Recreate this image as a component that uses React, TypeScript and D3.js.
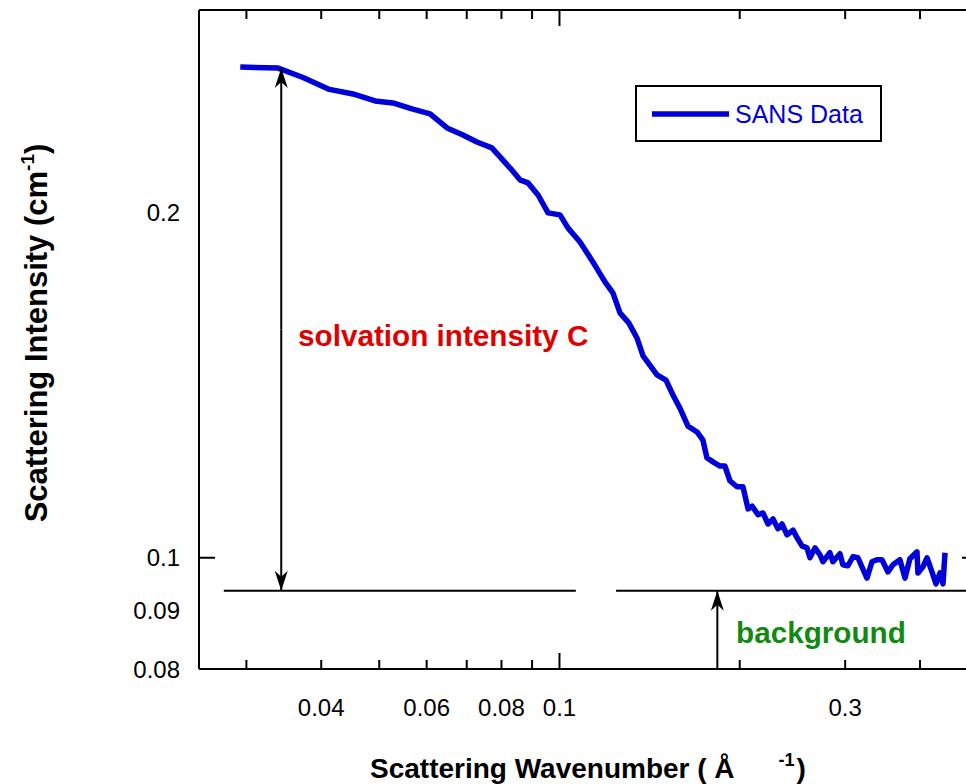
import React from "react";
import * as d3 from "d3";

// SANS data: scattering wavenumber (1/Å) and intensity (1/cm)
const qValues = [
  0.0293, 0.0339, 0.0373, 0.0411, 0.0452, 0.0492, 0.0527, 0.0567, 0.0608, 0.0649,
  0.069, 0.0728, 0.0771, 0.0827, 0.0859, 0.0886, 0.0921, 0.0957, 0.1002, 0.1033,
  0.1082, 0.1137, 0.1191, 0.1228, 0.1262, 0.1306, 0.1347, 0.1379, 0.1455, 0.1506,
  0.1547, 0.1589, 0.1639, 0.1697, 0.1736, 0.1763, 0.1804, 0.1854, 0.1889, 0.1926,
  0.1979, 0.2025, 0.2065, 0.2097, 0.2146, 0.2187, 0.223, 0.2273, 0.2317, 0.2353,
  0.2399, 0.2455, 0.2493, 0.2541, 0.259, 0.262, 0.2671, 0.2723, 0.2754, 0.2829,
  0.2862, 0.294, 0.2974, 0.3032, 0.3091, 0.3151, 0.32, 0.3262, 0.3326, 0.339,
  0.3456, 0.3537, 0.3605, 0.3703, 0.3776, 0.3848, 0.3954, 0.3969, 0.4046, 0.4109,
  0.4189, 0.4254, 0.432, 0.437, 0.4404,
];
const intensityValues = [
  0.2676, 0.267, 0.262, 0.256, 0.2535, 0.25, 0.249, 0.246, 0.2436, 0.2368,
  0.2335, 0.2302, 0.2275, 0.2185, 0.2134, 0.2121, 0.207, 0.1997, 0.1989, 0.1938,
  0.1884, 0.181, 0.1739, 0.1701, 0.1634, 0.1601, 0.1554, 0.1499, 0.1443, 0.1428,
  0.1386, 0.135, 0.1302, 0.1287, 0.1266, 0.1222, 0.1212, 0.1202, 0.1202, 0.1167,
  0.1153, 0.1153, 0.1103, 0.1109, 0.109, 0.1094, 0.107, 0.1081, 0.106, 0.107,
  0.1047, 0.1057, 0.1041, 0.1024, 0.102, 0.1, 0.102, 0.1006, 0.0992, 0.101,
  0.0992, 0.1008, 0.0986, 0.0984, 0.1002, 0.1, 0.0982, 0.096, 0.0992, 0.0996,
  0.0996, 0.0972, 0.0986, 0.0996, 0.096, 0.0998, 0.1012, 0.097, 0.0982, 0.1,
  0.0972, 0.0949, 0.097, 0.0949, 0.101,
];

const xTickLabels = [0.04, 0.06, 0.08, 0.1, 0.3];
const xMinorTicks = [0.03, 0.04, 0.05, 0.06, 0.07, 0.08, 0.09, 0.2, 0.3, 0.4];
const xMajorTicks = [0.1];
const yTickLabels = [0.08, 0.09, 0.1, 0.2];
const yMajorTicks = [0.1];

// annotation values (data units)
const backgroundLevel = 0.0936;
const backgroundSegments = [
  [0.0275, 0.1065],
  [0.1243, 0.5],
];
const solvationArrow = { q: 0.0343, from: 0.267, to: backgroundLevel };
const backgroundArrow = { q: 0.1835, from: 0.08, to: backgroundLevel };

const W = 966;
const H = 784;
const left = 199;
const right = 978;
const top = 10;
const bottom = 669;

export default function App() {
  const x = d3.scaleLog().domain([0.025, 0.5]).range([left, right]);
  const y = d3.scaleLog().domain([0.08, 0.3]).range([bottom, top]);
  const pts = qValues.map((q, i) => [q, intensityValues[i]] as [number, number]);
  const line = d3
    .line<[number, number]>()
    .x((d) => x(d[0]))
    .y((d) => y(d[1]));

  const font = "'Liberation Sans', Arial, sans-serif";
  const blue = "#0000d8";

  return (
    <svg
      width={W}
      height={H}
      style={{ position: "absolute", left: 0, top: 0, background: "#fff" }}
      fontFamily={font}
    >
      <defs>
        <marker
          id="ah"
          viewBox="-22 -8 24 16"
          refX="0"
          refY="0"
          markerWidth="24"
          markerHeight="16"
          markerUnits="userSpaceOnUse"
          orient="auto"
        >
          <path d="M0,0 L-20,-6.5 L-14,0 L-20,6.5 Z" fill="#000" />
        </marker>
      </defs>

      {/* frame */}
      <g stroke="#000" strokeWidth={2} fill="none">
        <line x1={left} y1={top} x2={left} y2={bottom} />
        <line x1={left} y1={top} x2={right} y2={top} />
        <line x1={left} y1={bottom} x2={right} y2={bottom} />
        <line x1={right} y1={top} x2={right} y2={bottom} />
      </g>

      {/* ticks */}
      <g stroke="#000" strokeWidth={2}>
        {xMinorTicks.map((t) => (
          <g key={"xm" + t}>
            <line x1={x(t)} x2={x(t)} y1={bottom} y2={bottom - 9} />
            <line x1={x(t)} x2={x(t)} y1={top} y2={top + 9} />
          </g>
        ))}
        {xMajorTicks.map((t) => (
          <g key={"xM" + t}>
            <line x1={x(t)} x2={x(t)} y1={bottom} y2={bottom - 16} />
            <line x1={x(t)} x2={x(t)} y1={top} y2={top + 16} />
          </g>
        ))}
        {yMajorTicks.map((t) => (
          <g key={"yM" + t}>
            <line x1={left} x2={left + 16} y1={y(t)} y2={y(t)} />
            <line x1={right} x2={right - 16} y1={y(t)} y2={y(t)} />
          </g>
        ))}
      </g>

      {/* tick labels */}
      <g fontSize={24} fill="#000">
        {xTickLabels.map((t) => (
          <text key={"xl" + t} x={x(t)} y={716} textAnchor="middle">
            {String(t)}
          </text>
        ))}
        {yTickLabels.map((t) => (
          <text key={"yl" + t} x={180} y={y(t) + 8.5} textAnchor="end">
            {String(t)}
          </text>
        ))}
      </g>

      {/* background line */}
      <g stroke="#000" strokeWidth={2}>
        {backgroundSegments.map((s, i) => (
          <line
            key={"bg" + i}
            x1={x(s[0])}
            x2={x(s[1])}
            y1={y(backgroundLevel)}
            y2={y(backgroundLevel)}
          />
        ))}
      </g>

      {/* data */}
      <path
        d={line(pts) || ""}
        fill="none"
        stroke={blue}
        strokeWidth={5.5}
        strokeLinejoin="round"
      />

      {/* arrows */}
      <g stroke="#000" strokeWidth={2}>
        <line
          x1={x(solvationArrow.q)}
          x2={x(solvationArrow.q)}
          y1={(y(solvationArrow.from) + y(solvationArrow.to)) / 2}
          y2={y(solvationArrow.from)}
          markerEnd="url(#ah)"
        />
        <line
          x1={x(solvationArrow.q)}
          x2={x(solvationArrow.q)}
          y1={(y(solvationArrow.from) + y(solvationArrow.to)) / 2}
          y2={y(solvationArrow.to)}
          markerEnd="url(#ah)"
        />
        <line
          x1={x(backgroundArrow.q)}
          x2={x(backgroundArrow.q)}
          y1={y(backgroundArrow.from)}
          y2={y(backgroundArrow.to)}
          markerEnd="url(#ah)"
        />
      </g>

      {/* annotations */}
      <text x={298} y={346} fontSize={29.7} fontWeight="bold" fill="#e00000">
        solvation intensity C
      </text>
      <text x={736} y={643} fontSize={29.7} fontWeight="bold" fill="#128a12">
        background
      </text>

      {/* legend */}
      <rect x={636} y={86} width={245} height={55} fill="#fff" stroke="#000" strokeWidth={2} />
      <line x1={652} x2={729} y1={114} y2={114} stroke={blue} strokeWidth={5.5} />
      <text x={735} y={123} fontSize={25} fill={blue}>
        SANS Data
      </text>

      {/* axis titles */}
      <text x={370} y={778} fontSize={28} fontWeight="bold" fill="#000">
        Scattering Wavenumber ( Å
        <tspan dx={44} dy={-12} fontSize={18}>-1</tspan>
        <tspan dx={2} dy={12}>)</tspan>
      </text>
      <text
        transform={`translate(47, 333) rotate(-90)`}
        textAnchor="middle"
        fontSize={31}
        fontWeight="bold"
        fill="#000"
      >
        Scattering Intensity (cm
        <tspan dy={-13} fontSize={19}>-1</tspan>
        <tspan dy={13}>)</tspan>
      </text>
    </svg>
  );
}
